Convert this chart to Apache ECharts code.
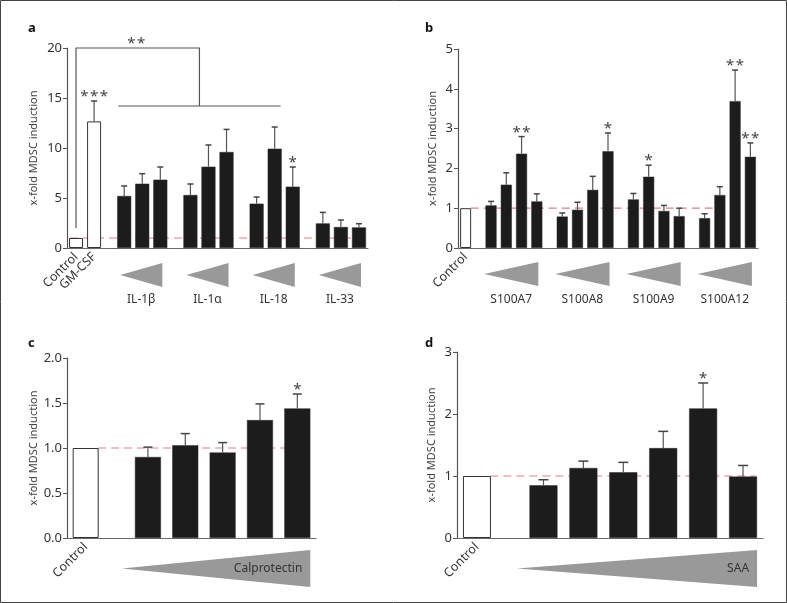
<!DOCTYPE html>
<html><head><meta charset="utf-8">
<script src="https://cdn.jsdelivr.net/npm/echarts@6/dist/echarts.min.js"></script>
<style>html,body{margin:0;padding:0;background:#fff}#c{width:787px;height:603px}</style>
</head><body><div id="c"></div>
<script>
// ---------------- DATA ----------------
// Panel a
const aControlLabels = ['Control', 'GM-CSF'];
const aControlValues = [1.0, 12.66];
const aControlErrors = [0, 2.04];
const aControlSig = ['', '***'];
const aGroupNames = ['IL-1β', 'IL-1α', 'IL-18', 'IL-33'];
const aGroupValues = [[5.2, 6.43, 6.83], [5.3, 8.13, 9.6], [4.43, 9.93, 6.13], [2.46, 2.1, 2.06]];
const aGroupErrors = [[1.0, 1.0, 1.27], [1.1, 2.17, 2.26], [0.67, 2.17, 1.97], [1.1, 0.7, 0.37]];
const aGroupSig = [['', '', ''], ['', '', ''], ['', '', '*'], ['', '', '']];
const aBracketSig = '**';
// Panel b
const bControlLabels = ['Control'];
const bControlValues = [1.0];
const bControlErrors = [0];
const bControlSig = [''];
const bGroupNames = ['S100A7', 'S100A8', 'S100A9', 'S100A12'];
const bGroupValues = [[1.07, 1.59, 2.37, 1.17], [0.79, 0.96, 1.46, 2.43], [1.22, 1.79, 0.93, 0.80], [0.75, 1.33, 3.69, 2.29]];
const bGroupErrors = [[0.10, 0.30, 0.43, 0.19], [0.09, 0.19, 0.34, 0.46], [0.15, 0.29, 0.14, 0.20], [0.11, 0.21, 0.78, 0.35]];
const bGroupSig = [['', '', '**', ''], ['', '', '', '*'], ['', '*', '', ''], ['', '', '**', '**']];
// Panel c
const cControlLabels = ['Control'];
const cControlValues = [1.0];
const cControlErrors = [0];
const cControlSig = [''];
const cGroupNames = ['Calprotectin'];
const cGroupValues = [[0.90, 1.03, 0.95, 1.31, 1.44]];
const cGroupErrors = [[0.11, 0.13, 0.11, 0.18, 0.16]];
const cGroupSig = [['', '', '', '', '*']];
// Panel d
const dControlLabels = ['Control'];
const dControlValues = [1.0];
const dControlErrors = [0];
const dControlSig = [''];
const dGroupNames = ['SAA'];
const dGroupValues = [[0.85, 1.13, 1.06, 1.45, 2.09, 0.99]];
const dGroupErrors = [[0.09, 0.11, 0.16, 0.27, 0.41, 0.18]];
const dGroupSig = [['', '', '', '', '*', '']];

const yAxisTitle = 'x-fold MDSC induction';
const refValue = 1;

// ---------------- LAYOUT ----------------
const FONT = 'Noto Sans';
const panels = [
  { letter: 'a', grid: { left: 67, top: 48, width: 301, height: 200 }, yMax: 20, yInt: 5, dec: 0, nameGap: 28,
    nSlots: 50, controlSlots: [1, 4], groupStarts: [9, 20, 31, 42], step: 3, barW: 14, cap: 6, ref: [0, 49],
    tri: { l: -4, r: 2, t: 15, b: 39, label: 52, inside: false },
    cl: aControlLabels, cv: aControlValues, ce: aControlErrors, cs: aControlSig,
    gn: aGroupNames, gv: aGroupValues, ge: aGroupErrors, gs: aGroupSig, letterPos: [28, 28] },
  { letter: 'b', grid: { left: 458, top: 49, width: 300, height: 199 }, yMax: 5, yInt: 1, dec: 0, nameGap: 20,
    nSlots: 59, controlSlots: [1], groupStarts: [6, 20, 34, 48], step: 3, barW: 11, cap: 6, ref: [2, 50],
    tri: { l: -7, r: 1.5, t: 14, b: 38, label: 52, inside: false },
    cl: bControlLabels, cv: bControlValues, ce: bControlErrors, cs: bControlSig,
    gn: bGroupNames, gv: bGroupValues, ge: bGroupErrors, gs: bGroupSig, letterPos: [425, 28] },
  { letter: 'c', grid: { left: 67, top: 358, width: 249, height: 180 }, yMax: 2, yInt: 0.5, dec: 1, nameGap: 26,
    nSlots: 20, controlSlots: [1], groupStarts: [6], step: 3, barW: 26, cap: 9, ref: [2, 19],
    tri: { l: -26, r: 13, t: 12, b: 49, inside: true },
    cl: cControlLabels, cv: cControlValues, ce: cControlErrors, cs: cControlSig,
    gn: cGroupNames, gv: cGroupValues, ge: cGroupErrors, gs: cGroupSig, letterPos: [28, 343] },
  { letter: 'd', grid: { left: 457, top: 352, width: 306, height: 186 }, yMax: 3, yInt: 1, dec: 0, nameGap: 20,
    nSlots: 23, controlSlots: [1], groupStarts: [6], step: 3, barW: 28, cap: 10, ref: [2, 22],
    tri: { l: -26.6, r: 14, t: 12, b: 49, inside: true },
    cl: dControlLabels, cv: dControlValues, ce: dControlErrors, cs: dControlSig,
    gn: dGroupNames, gv: dGroupValues, ge: dGroupErrors, gs: dGroupSig, letterPos: [425, 343] }
];

function spaced(s) { return s.split('').join('\u200A'); }

function build(p) {
  const cats = new Array(p.nSlots).fill('');
  const bars = new Array(p.nSlots).fill(null);
  const errs = [], sigs = [];
  p.controlSlots.forEach((s, i) => {
    cats[s] = p.cl[i];
    bars[s] = { value: p.cv[i], itemStyle: { color: '#ffffff', borderColor: '#333', borderWidth: 1 } };
    errs.push([s, p.cv[i], p.ce[i]]); sigs.push(p.cs[i]);
  });
  p.groups = [];
  p.groupStarts.forEach((start, g) => {
    const slots = [];
    p.gv[g].forEach((v, j) => {
      const s = start + j * p.step;
      slots.push(s);
      bars[s] = { value: v, itemStyle: { color: '#1c1c1c', borderColor: '#2a2a2a', borderWidth: 0.5 } };
      errs.push([s, v, p.ge[g][j]]); sigs.push(p.gs[g][j]);
    });
    p.groups.push({ name: p.gn[g], slots });
  });
  const ref = new Array(p.nSlots).fill(null);
  for (let i = p.ref[0]; i <= p.ref[1]; i++) ref[i] = refValue;
  return { cats, bars, errs, sigs, ref };
}

const grids = [], xAxes = [], yAxes = [], series = [];
panels.forEach((p, k) => {
  const d = build(p);
  p.built = d;
  grids.push(Object.assign({ containLabel: false, outerBoundsMode: 'none' }, p.grid));
  xAxes.push({
    type: 'category', gridIndex: k, data: d.cats,
    axisLine: { lineStyle: { color: '#6a6a6a', width: 1.2 } },
    axisTick: { show: false },
    axisLabel: { interval: 0, rotate: 45, margin: 7, fontSize: 12.5, color: '#333', fontFamily: FONT }
  });
  yAxes.push({
    type: 'value', gridIndex: k, min: 0, max: p.yMax, interval: p.yInt,
    name: yAxisTitle, nameLocation: 'middle', nameGap: p.nameGap, nameRotate: 90,
    nameTextStyle: { fontSize: 11, color: '#444', fontFamily: FONT },
    splitLine: { show: false },
    axisLine: { show: true, lineStyle: { color: '#555', width: 1.2 } },
    axisTick: { show: true, length: 4, lineStyle: { color: '#555' } },
    axisLabel: { fontSize: 13, color: '#333', margin: 5, fontFamily: FONT,
      formatter: v => v.toFixed(p.dec) }
  });
  series.push({
    type: 'line', xAxisIndex: k, yAxisIndex: k, data: d.ref, symbol: 'none', silent: true, z: 1,
    lineStyle: { color: '#e07f85', width: 1.2, type: [8, 5] }, connectNulls: false
  });
  series.push({
    type: 'bar', xAxisIndex: k, yAxisIndex: k, data: d.bars, barWidth: p.barW, z: 2, silent: true
  });
  const sigs = d.sigs, cap = p.cap;
  series.push({
    type: 'custom', xAxisIndex: k, yAxisIndex: k, data: d.errs, z: 3, silent: true,
    encode: { x: 0, y: 1 },
    renderItem: function (params, api) {
      const idx = api.value(0), v = api.value(1), e = api.value(2);
      const base = api.coord([idx, v]);
      const top = api.coord([idx, v + e]);
      const ch = [];
      if (e > 0) {
        ch.push({ type: 'line', shape: { x1: base[0], y1: base[1], x2: top[0], y2: top[1] }, style: { stroke: '#555', lineWidth: 1.2 } });
        ch.push({ type: 'line', shape: { x1: top[0] - cap / 2, y1: top[1], x2: top[0] + cap / 2, y2: top[1] }, style: { stroke: '#444', lineWidth: 1.5 } });
      }
      const s = sigs[params.dataIndex];
      if (s) ch.push({ type: 'text', x: top[0], y: top[1] - 4, style: { text: spaced(s), align: 'center', verticalAlign: 'middle', fontSize: 15, fill: '#444', fontFamily: FONT } });
      return { type: 'group', children: ch };
    }
  });
});

const chart = echarts.init(document.getElementById('c'), null, { renderer: 'canvas' });
chart.setOption({
  animation: false,
  textStyle: { fontFamily: FONT },
  grid: grids, xAxis: xAxes, yAxis: yAxes, series: series
});

// ---------------- ANNOTATIONS (computed from axes) ----------------
function px(k, idx, val) { return chart.convertToPixel({ xAxisIndex: k, yAxisIndex: k }, [idx, val]); }
const g = [];
g.push({ type: 'rect', shape: { x: 0.5, y: 0.5, width: 786, height: 602 }, style: { fill: 'none', stroke: '#444', lineWidth: 1 }, silent: true });
panels.forEach((p, k) => {
  g.push({ type: 'text', x: p.letterPos[0], y: p.letterPos[1], style: { text: p.letter, fontSize: 13, fontWeight: 'bold', fill: '#111', fontFamily: FONT, align: 'left', verticalAlign: 'middle' } });
  p.groups.forEach(gr => {
    const a = px(k, gr.slots[0], 0), b = px(k, gr.slots[gr.slots.length - 1], 0);
    const y0 = a[1];
    const left = a[0] + p.tri.l, right = b[0] + p.tri.r;
    const top = y0 + p.tri.t, bot = y0 + p.tri.b;
    g.push({ type: 'polygon', shape: { points: [[left, (top + bot) / 2], [right, top], [right, bot]] }, style: { fill: '#999999' }, silent: true });
    if (p.tri.inside) {
      g.push({ type: 'text', x: right - 8, y: (top + bot) / 2, style: { text: gr.name, align: 'right', verticalAlign: 'middle', fontSize: 12, fill: '#333', fontFamily: FONT } });
    } else {
      g.push({ type: 'text', x: (left + right) / 2, y: y0 + p.tri.label, style: { text: gr.name, align: 'center', verticalAlign: 'middle', fontSize: 12, fill: '#333', fontFamily: FONT } });
    }
  });
});
// Panel a bracket
(function () {
  const p = panels[0];
  const ctrl = p.controlSlots[0];
  const c0 = px(0, ctrl, 2), c1 = px(0, ctrl, p.yMax);
  const r1 = px(0, 21, p.yMax), r2 = px(0, 22, p.yMax);
  const rx = (r1[0] + r2[0]) / 2;
  const yLow = px(0, 22, 14.2)[1];
  const hl = px(0, 8, 14.2), hr = px(0, 35, 14.2);
  const st = { stroke: '#555', lineWidth: 1.2, fill: 'none' };
  g.push({ type: 'polyline', shape: { points: [[c0[0], c0[1]], [c1[0], c1[1]], [rx, c1[1]], [rx, yLow]] }, style: st, silent: true });
  g.push({ type: 'line', shape: { x1: hl[0], y1: hl[1], x2: hr[0], y2: hr[1] }, style: st, silent: true });
  const tx = px(0, 11, p.yMax);
  g.push({ type: 'text', x: tx[0], y: tx[1] - 4, style: { text: spaced(aBracketSig), align: 'center', verticalAlign: 'middle', fontSize: 15, fill: '#444', fontFamily: FONT } });
})();
chart.setOption({ graphic: g });
</script></body></html>
